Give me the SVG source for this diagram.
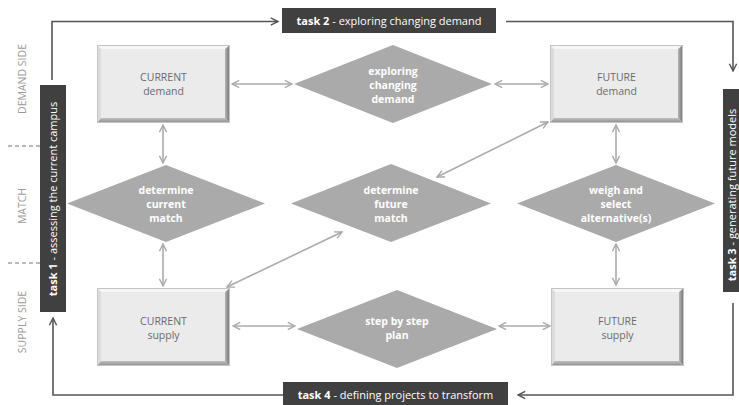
<svg xmlns="http://www.w3.org/2000/svg" xmlns:xlink="http://www.w3.org/1999/xlink" width="739" height="405" viewBox="0 0 739 405">
<style>
.side{font-family:"Open Sans","Liberation Sans",sans-serif;font-size:10.5px;fill:#9a9a9a;text-anchor:middle}
.box{font-family:"Open Sans","Liberation Sans",sans-serif;font-size:10.5px;fill:#6a6a6a;text-anchor:middle}
.dia{font-family:"Open Sans","Liberation Sans",sans-serif;font-size:10.5px;font-weight:bold;fill:#ffffff;text-anchor:middle}
.task{font-family:"Open Sans","Liberation Sans",sans-serif;font-size:11px;fill:#ffffff;text-anchor:middle}
.taskbg{fill:#404040}
.diamond{fill:#aaaaaa}
.conn{fill:none;stroke:#ababab;stroke-width:1.6}
.loop{fill:none;stroke:#555555;stroke-width:1.6}
.dash{stroke:#777;stroke-width:1.2;stroke-dasharray:4 3}
</style>
<defs>
<marker id="ag" viewBox="0 0 10 10" refX="9" refY="5" markerUnits="userSpaceOnUse" markerWidth="9" markerHeight="11" orient="auto-start-reverse">
<path d="M1,1 L9,5 L1,9" fill="none" stroke="#ababab" stroke-width="1.6"/>
</marker>
<marker id="ad" viewBox="0 0 10 10" refX="9" refY="5" markerUnits="userSpaceOnUse" markerWidth="9" markerHeight="11" orient="auto">
<path d="M1,1 L9,5 L1,9" fill="none" stroke="#555555" stroke-width="1.6"/>
</marker>
<linearGradient id="rg" x1="0" y1="0" x2="1" y2="0">
<stop offset="0" stop-color="#b5b5b5"/><stop offset="1" stop-color="#6e6e6e"/>
</linearGradient>
<linearGradient id="bg" x1="0" y1="0" x2="0" y2="1">
<stop offset="0" stop-color="#c0c0c0"/><stop offset="1" stop-color="#8a8a8a"/>
</linearGradient>
<g id="bevel">
<rect x="0" y="0" width="133" height="78" fill="#ebebeb"/>
<polygon points="0,0 133,0 128,4 4,4" fill="#f6f6f6"/>
<polygon points="0,0 4,4 4,73 0,78" fill="#dcdcdc"/>
<polygon points="133,0 133,78 128,73 128,4" fill="url(#rg)"/>
<polygon points="0,78 133,78 128,73 4,73" fill="url(#bg)"/>
<rect x="0.5" y="0.5" width="132" height="77" fill="none" stroke="#c4c4c4" stroke-width="1"/>
</g>
</defs>

<g id="side-labels">
<text class="side" transform="translate(26,79) rotate(-90)">DEMAND SIDE</text>
<text class="side" transform="translate(26,206) rotate(-90)">MATCH</text>
<text class="side" transform="translate(26,322) rotate(-90)">SUPPLY SIDE</text>
<line class="dash" x1="8" y1="146" x2="40" y2="146"/>
<line class="dash" x1="8" y1="263" x2="40" y2="263"/>
</g>

<g id="connectors">
<line class="conn" x1="232" y1="84" x2="292" y2="84" marker-start="url(#ag)" marker-end="url(#ag)"/>
<line class="conn" x1="495" y1="84" x2="548" y2="84" marker-start="url(#ag)" marker-end="url(#ag)"/>
<line class="conn" x1="163" y1="125" x2="163" y2="163" marker-start="url(#ag)" marker-end="url(#ag)"/>
<line class="conn" x1="163" y1="244" x2="163" y2="286" marker-start="url(#ag)" marker-end="url(#ag)"/>
<line class="conn" x1="616" y1="125" x2="616" y2="163" marker-start="url(#ag)" marker-end="url(#ag)"/>
<line class="conn" x1="616" y1="244" x2="616" y2="285" marker-start="url(#ag)" marker-end="url(#ag)"/>
<line class="conn" x1="233" y1="326" x2="295" y2="326" marker-start="url(#ag)" marker-end="url(#ag)"/>
<line class="conn" x1="499" y1="326" x2="550" y2="326" marker-start="url(#ag)" marker-end="url(#ag)"/>
<line class="conn" x1="437" y1="177" x2="548" y2="122" marker-start="url(#ag)" marker-end="url(#ag)"/>
<line class="conn" x1="227" y1="287" x2="342" y2="232" marker-start="url(#ag)" marker-end="url(#ag)"/>
<polyline class="loop" points="52,80 52,21.5 278,21.5" marker-end="url(#ad)"/>
<polyline class="loop" points="506,21.5 733,21.5 733,71" marker-end="url(#ad)"/>
<polyline class="loop" points="733,303 733,395 518,395" marker-end="url(#ad)"/>
<polyline class="loop" points="283,395 53,395 53,318" marker-end="url(#ad)"/>
</g>

<g id="task1">
<rect class="taskbg" x="40" y="85" width="26" height="227"/>
<text class="task" transform="translate(57,199) rotate(-90)"><tspan font-weight="bold">task 1</tspan> - assessing the current campus</text>
</g>
<g id="task2">
<rect class="taskbg" x="282" y="8" width="214" height="25"/>
<text class="task" x="389" y="24.5"><tspan font-weight="bold">task 2</tspan> - exploring changing demand</text>
</g>
<g id="task3">
<rect class="taskbg" x="723" y="89" width="28" height="203"/>
<text class="task" transform="translate(735.5,195) rotate(-90)"><tspan font-weight="bold">task 3</tspan> - generating future models</text>
</g>
<g id="task4">
<rect class="taskbg" x="283" y="382" width="225" height="25"/>
<text class="task" x="395.5" y="398.5"><tspan font-weight="bold">task 4</tspan> - defining projects to transform</text>
</g>

<g id="current-demand">
<use xlink:href="#bevel" href="#bevel" x="97" y="45"/>
<text class="box" x="163.5" y="81">CURRENT</text>
<text class="box" x="163.5" y="95">demand</text>
</g>
<g id="future-demand">
<use xlink:href="#bevel" href="#bevel" x="550" y="45"/>
<text class="box" x="616.5" y="81">FUTURE</text>
<text class="box" x="616.5" y="95">demand</text>
</g>
<g id="current-supply">
<use xlink:href="#bevel" href="#bevel" x="97" y="288"/>
<text class="box" x="163.5" y="325">CURRENT</text>
<text class="box" x="163.5" y="339">supply</text>
</g>
<g id="future-supply">
<use xlink:href="#bevel" href="#bevel" x="551" y="288"/>
<text class="box" x="617.5" y="325">FUTURE</text>
<text class="box" x="617.5" y="339">supply</text>
</g>

<g id="exploring-changing-demand">
<polygon class="diamond" points="294,84 393,45 492,84 393,123"/>
<text class="dia" x="393" y="75">exploring</text>
<text class="dia" x="393" y="89">changing</text>
<text class="dia" x="393" y="103">demand</text>
</g>
<g id="determine-current-match">
<polygon class="diamond" points="67,203.5 166,165 265,203.5 166,242"/>
<text class="dia" x="166" y="194">determine</text>
<text class="dia" x="166" y="208">current</text>
<text class="dia" x="166" y="222">match</text>
</g>
<g id="determine-future-match">
<polygon class="diamond" points="291,203.5 391,164 491,203.5 391,242"/>
<text class="dia" x="391" y="194">determine</text>
<text class="dia" x="391" y="208">future</text>
<text class="dia" x="391" y="222">match</text>
</g>
<g id="weigh-and-select">
<polygon class="diamond" points="517,203.5 616,165 715,203.5 616,242"/>
<text class="dia" x="616" y="194">weigh and</text>
<text class="dia" x="616" y="208">select</text>
<text class="dia" x="616" y="222">alternative(s)</text>
</g>
<g id="step-by-step-plan">
<polygon class="diamond" points="297,329 397,290 497,329 397,368"/>
<text class="dia" x="397" y="325">step by  step</text>
<text class="dia" x="397" y="339">plan</text>
</g>
</svg>
